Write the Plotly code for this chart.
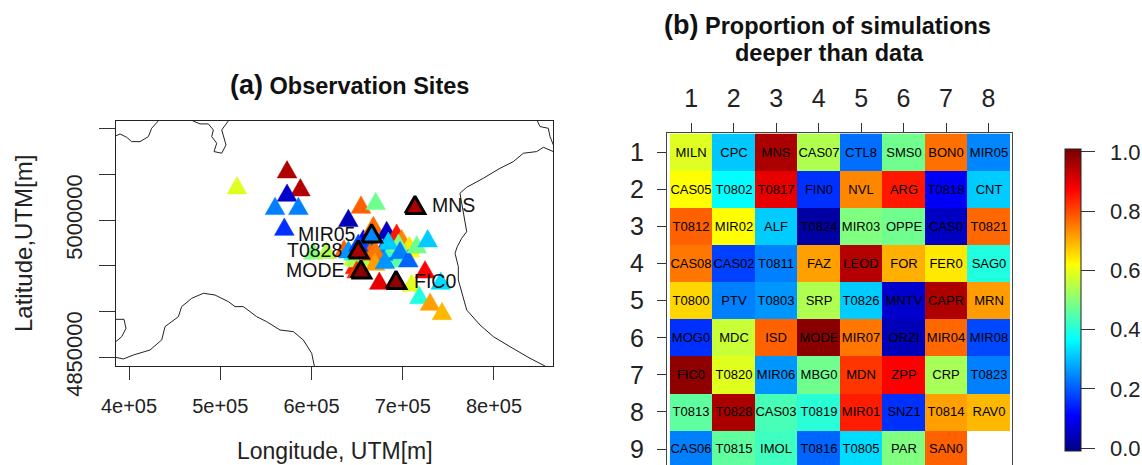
import numpy as np
import plotly.graph_objects as go

W, H = 1142, 465


def fx(p):
    return p / W


def fy(p):
    return 1 - p / H


grid_names = [
    ["MILN", "CPC", "MNS", "CAS07", "CTL8", "SMS0", "BON0", "MIR05"],
    ["CAS05", "T0802", "T0817", "FIN0", "NVL", "ARG", "T0818", "CNT"],
    ["T0812", "MIR02", "ALF", "T0824", "MIR03", "OPPE", "CAS0", "T0821"],
    ["CAS08", "CAS02", "T0811", "FAZ", "LEOD", "FOR", "FER0", "SAG0"],
    ["T0800", "PTV", "T0803", "SRP", "T0826", "MNTV", "CAPR", "MRN"],
    ["MOG0", "MDC", "ISD", "MODE", "MIR07", "ORZI", "MIR04", "MIR08"],
    ["FIC0", "T0820", "MIR06", "MBG0", "MDN", "ZPP", "CRP", "T0823"],
    ["T0813", "T0828", "CAS03", "T0819", "MIR01", "SNZ1", "T0814", "RAV0"],
    ["CAS06", "T0815", "IMOL", "T0816", "T0805", "PAR", "SAN0", ""],
]
grid_values = [
    [0.587, 0.31, 0.958, 0.54, 0.22, 0.477, 0.762, 0.245],
    [0.62, 0.365, 0.896, 0.158, 0.739, 0.85, 0.105, 0.314],
    [0.778, 0.62, 0.314, 0.02, 0.4925, 0.477, 0.05, 0.77],
    [0.755, 0.174, 0.238, 0.714, 0.948, 0.698, 0.642, 0.397],
    [0.66, 0.238, 0.26, 0.54, 0.314, 0.06, 0.953, 0.718],
    [0.158, 0.565, 0.778, 0.99, 0.755, 0.04, 0.77, 0.182],
    [0.985, 0.59, 0.26, 0.477, 0.82, 0.873, 0.533, 0.238],
    [0.46, 0.958, 0.437, 0.405, 0.845, 0.158, 0.714, 0.69],
    [0.238, 0.46, 0.428, 0.21, 0.33, 0.4925, 0.778, None],
]

# site positions, easting and northing in km, in drawing order
site_names = [
    "CPC", "CTL8", "T0802", "FIN0", "T0818", "MIR02", "ALF", "T0824", "OPPE", "T0821",
    "CAS08", "FOR", "T0800", "MRN", "MDC", "MIR04", "MIR08", "T0813", "CAS03", "T0819",
    "MIR01", "SNZ1", "CAS06", "T0815", "IMOL", "CAS05", "CAS07", "SAN0",
    "PAR", "SRP", "T0812", "MIR06", "CAS02", "CRP", "MDN", "BON0", "CAS0", "ARG", "NVL",
    "FER0", "MIR03", "T0826", "MIR07", "T0814", "T0803", "T0823", "T0816", "MBG0", "CNT",
    "MILN", "CAPR", "LEOD", "MNTV", "T0811", "PTV", "MOG0", "ORZI", "ISD", "SMS0",
    "ZPP", "T0817", "T0820", "T0805", "SAG0", "FAZ", "RAV0",
    "MIR05", "T0828", "MODE", "FIC0", "MNS",
]
site_x = [
    689.7, 689.7, 686.0, 656.8, 656.8, 702.5, 682.4, 649.5, 695.2, 665.9,
    675.1, 678.7, 664.1, 671.5, 645.9, 660.5, 660.5, 687.9, 691.5, 645.9,
    647.7, 682.4, 678.7, 693.3, 687.9, 708.0, 655.0, 664.1,
    602.0, 616.6, 635.6, 640.4, 651.3, 648.8, 649.5, 667.8, 682.4, 693.3, 698.8,
    707.2, 695.2, 684.2, 669.6, 669.6, 680.5, 697.0, 706.1, 715.3, 727.3,
    518.4, 573.2, 587.8, 573.2, 560.0, 585.6, 570.2, 640.4, 654.2, 670.3,
    724.4, 674.3, 709.8, 741.6, 718.2, 729.9, 743.0,
    665.9, 651.3, 654.2, 692.6, 713.4,
]
site_y = [
    4963.9, 4960.2, 4971.2, 4974.8, 4980.3, 4965.7, 4967.5, 4952.2, 4960.2, 4974.8,
    4963.9, 4960.2, 4960.2, 4960.2, 4960.2, 4963.9, 4978.5, 4958.4, 4965.7, 4965.7,
    4951.1, 4976.6, 4965.7, 4971.2, 4969.3, 4969.3, 4960.2, 4965.7,
    4966.8, 4967.5, 4969.3, 4968.2, 4975.5, 4958.4, 4946.3, 4994.9, 4989.4, 4986.5, 4980.3,
    4973.0, 4975.5, 4977.7, 4968.2, 4954.7, 4956.6, 4967.5, 4958.4, 4973.7, 4980.3,
    5038.3, 5055.8, 5036.1, 5030.3, 5015.7, 5015.7, 4993.0, 5002.6, 5017.2, 5021.2,
    4946.3, 4933.9, 4931.7, 4933.9, 4918.2, 4910.9, 4900.7,
    4985.8, 4968.2, 4946.3, 4934.7, 5016.8,
]
highlighted = ["MIR05", "T0828", "MODE", "FIC0", "MNS"]

# coastlines and borders, km
coast_1_x = [385.4, 390.1, 397.4, 402.9, 412.1, 421.2, 424.8, 432.1]
coast_1_y = [5092.3, 5094.5, 5090.9, 5086.1, 5086.1, 5091.6, 5100.7, 5108.8]
coast_2_x = [469.8, 477.8, 486.9, 492.4, 490.6, 496.1, 493.2, 501.6, 506.3, 503.4, 501.6, 508.9]
coast_2_y = [5108.8, 5105.5, 5105.5, 5098.9, 5091.6, 5084.3, 5075.2, 5073.4, 5082.5, 5093.4, 5098.9, 5108.8]
coast_3_x = [847.5, 850.4, 859.5, 861.4, 865.0]
coast_3_y = [5108.8, 5102.6, 5100.7, 5091.6, 5082.5]
coast_4_x = [865.0, 854.1, 846.8, 832.2, 821.2, 806.6, 788.3, 770.1, 762.7, 764.6, 768.2, 770.1,
             764.6, 759.8, 757.3, 760.9, 760.9, 766.4, 770.1, 784.7, 799.3, 817.5, 839.5, 855.9]
coast_4_y = [5075.2, 5079.9, 5075.2, 5073.4, 5064.2, 5056.9, 5046.0, 5036.1, 5029.6, 5018.6, 5000.4, 4987.6,
             4980.3, 4971.2, 4963.9, 4949.3, 4934.7, 4916.4, 4901.8, 4885.4, 4872.6, 4861.7, 4848.9, 4840.5]
coast_5_x = [385.4, 393.8, 404.7, 423.0, 435.8, 439.5, 454.1, 457.7, 468.7, 481.5, 494.2, 508.9,
             516.2, 525.3, 539.9, 550.9, 565.5, 580.1, 591.0, 600.2, 603.1]
coast_5_y = [4850.0, 4848.2, 4852.5, 4858.0, 4869.0, 4883.6, 4894.5, 4905.5, 4914.6, 4920.1, 4918.2, 4910.9,
             4905.5, 4905.5, 4894.5, 4889.0, 4879.9, 4878.1, 4869.0, 4854.4, 4840.5]
coast_6_x = [385.4, 394.5, 396.7, 392.0, 385.4]
coast_6_y = [4891.6, 4891.6, 4881.7, 4872.6, 4867.0]
coasts = [(coast_1_x, coast_1_y), (coast_2_x, coast_2_y), (coast_3_x, coast_3_y),
          (coast_4_x, coast_4_y), (coast_5_x, coast_5_y), (coast_6_x, coast_6_y)]

map_xticks = [400000, 500000, 600000, 700000, 800000]
map_xlabels = ["4e+05", "5e+05", "6e+05", "7e+05", "8e+05"]
map_yticks = [4850000, 4900000, 4950000, 5000000, 5050000, 5100000]
map_ylabels = ["4850000", "", "", "5000000", "", ""]

label_text = ["MNS", "MIR05", "T0828", "MODE", "FIC0"]
label_anchor = ["left", "right", "right", "right", "left"]
label_x = [730.2, 650.6, 635.6, 638.9, 710.1]
label_y = [5016.8, 4984.7, 4967.5, 4945.6, 4933.9]

stop_vals = [0.0, 0.11, 0.365, 0.62, 0.873, 1.0]
stop_rgb = [(0, 0, 143), (0, 0, 255), (0, 255, 255), (255, 255, 0), (255, 0, 0), (128, 0, 0)]
ZMIN, ZMAX = -0.01, 1.01


def rgb(t):
    return tuple(int(round(np.interp(t, stop_vals, [c[i] for c in stop_rgb]))) for i in range(3))


def css(c):
    return f"rgb({c[0]},{c[1]},{c[2]})"


colorscale = [[0.0, css(stop_rgb[0])]]
for v, c in zip(stop_vals, stop_rgb):
    colorscale.append([(v - ZMIN) / (ZMAX - ZMIN), css(c)])
colorscale.append([1.0, css(stop_rgb[-1])])

value_of = {n: v for rn, rv in zip(grid_names, grid_values) for n, v in zip(rn, rv) if n}

FONT = "Liberation Sans"
fig = go.Figure()

for cx, cy in coasts:
    fig.add_trace(go.Scatter(x=np.array(cx) * 1000, y=np.array(cy) * 1000, mode="lines",
                             line=dict(color="#222222", width=1), xaxis="x", yaxis="y",
                             hoverinfo="skip", showlegend=False))

HALF_W, HALF_H = 10800, 9500
for name, sx, sy in zip(site_names, site_x, site_y):
    c = css(rgb(value_of[name]))
    x0, y0 = sx * 1000, sy * 1000
    hl = name in highlighted
    fig.add_trace(go.Scatter(
        x=[x0 - HALF_W, x0 + HALF_W, x0, x0 - HALF_W],
        y=[y0 - HALF_H, y0 - HALF_H, y0 + HALF_H, y0 - HALF_H],
        mode="lines", fill="toself", fillcolor=c,
        line=dict(color="black" if hl else c, width=3 if hl else 0.5),
        name=name, xaxis="x", yaxis="y", hoverinfo="name", showlegend=False))

rows = list(range(1, 10))
cols = list(range(1, 9))
fig.add_trace(go.Heatmap(
    z=grid_values, x=cols, y=rows, text=grid_names, texttemplate="%{text}",
    textfont=dict(family=FONT, size=13, color="black"),
    colorscale=colorscale, zmin=ZMIN, zmax=ZMAX, xaxis="x2", yaxis="y2",
    hoverongaps=False,
    colorbar=dict(
        x=fx(1065), xanchor="left", xpad=0, ypad=0, y=fy(149), yanchor="top",
        lenmode="pixels", len=302, thicknessmode="pixels", thickness=16,
        outlinecolor="#222222", outlinewidth=1,
        tickmode="linear", tick0=0, dtick=0.2, tickformat=".1f",
        ticks="outside", ticklen=14, tickwidth=1, tickcolor="#333333",
        tickprefix="\u00a0\u2009",
        tickfont=dict(family=FONT, size=22, color="#222222"),
    )))

annotations = []
for t, a, lx, ly in zip(label_text, label_anchor, label_x, label_y):
    annotations.append(dict(text=t, x=lx * 1000, y=ly * 1000, xref="x", yref="y", xanchor=a, yanchor="middle",
                            showarrow=False, font=dict(family=FONT, size=19.5, color="#111111")))
annotations += [
    dict(text="<b><span style='font-size:27px'>(a)</span> Observation Sites</b>", x=fx(349), y=fy(85),
         xref="paper", yref="paper", xanchor="center", yanchor="middle", showarrow=False,
         font=dict(family=FONT, size=23.5, color="#111111")),
    dict(text="<b><span style='font-size:27px'>(b)</span> Proportion of simulations</b>", x=fx(827), y=fy(25),
         xref="paper", yref="paper", xanchor="center", yanchor="middle", showarrow=False,
         font=dict(family=FONT, size=23.5, color="#111111")),
    dict(text="<b>deeper than data</b>", x=fx(829), y=fy(53),
         xref="paper", yref="paper", xanchor="center", yanchor="middle", showarrow=False,
         font=dict(family=FONT, size=23.5, color="#111111")),
    dict(text="Longitude, UTM[m]", x=fx(334.5), y=fy(451), xref="paper", yref="paper",
         xanchor="center", yanchor="middle", showarrow=False, font=dict(family=FONT, size=23, color="#222222")),
    dict(text="Latitude,UTM[m]", x=fx(23), y=fy(244), xref="paper", yref="paper", textangle=-90,
         xanchor="center", yanchor="middle", showarrow=False, font=dict(family=FONT, size=24, color="#222222")),
]

fig.update_layout(
    width=W, height=H, margin=dict(l=0, r=0, t=0, b=0), autosize=False,
    paper_bgcolor="white", plot_bgcolor="white", showlegend=False,
    annotations=annotations,
    xaxis=dict(domain=[fx(115.7), fx(553.3)], range=[385400, 865000], tickmode="array", automargin=False,
               tickvals=map_xticks, ticktext=map_xlabels, ticks="outside", ticklen=13, tickwidth=1,
               tickcolor="#333333", showline=True, mirror=True, linecolor="#222222", linewidth=1,
               showgrid=False, zeroline=False, ticklabelstandoff=9,
               tickfont=dict(family=FONT, size=20, color="#222222"), anchor="y"),
    yaxis=dict(domain=[fy(366), fy(120.7)], range=[4840500, 5109000], tickmode="array", automargin=False,
               tickvals=map_yticks, ticktext=map_ylabels, ticks="outside", ticklen=16, tickwidth=1,
               tickcolor="#333333", tickangle=-90, showline=True, mirror=True, linecolor="#222222", linewidth=1,
               showgrid=False, zeroline=False, ticklabelstandoff=8,
               tickfont=dict(family=FONT, size=22, color="#222222"), anchor="x"),
    xaxis2=dict(domain=[fx(667), fx(1012)], range=[0.430, 8.553], side="top", tickmode="array", automargin=False,
                tickvals=cols, ticktext=[str(c) for c in cols], ticks="outside", ticklen=9, tickwidth=1,
                tickcolor="#333333", showline=True, linecolor="#444444", linewidth=1,
                showgrid=False, zeroline=False, ticklabelstandoff=6,
                tickfont=dict(family=FONT, size=25, color="#222222"), anchor="y2"),
    yaxis2=dict(domain=[0, fy(132.7)], range=[9.43, 0.472], tickmode="array", automargin=False,
                tickvals=rows, ticktext=[str(r) for r in rows], ticks="outside", ticklen=9, tickwidth=1,
                tickcolor="#333333", showline=True, mirror=True, linecolor="#444444", linewidth=1,
                showgrid=False, zeroline=False, ticklabelstandoff=8,
                tickfont=dict(family=FONT, size=25, color="#222222"), anchor="x2"),
)

fig.write_html("out.html", config={"displayModeBar": False},
               post_script="document.body.style.margin='0';document.documentElement.style.overflow='hidden';")
